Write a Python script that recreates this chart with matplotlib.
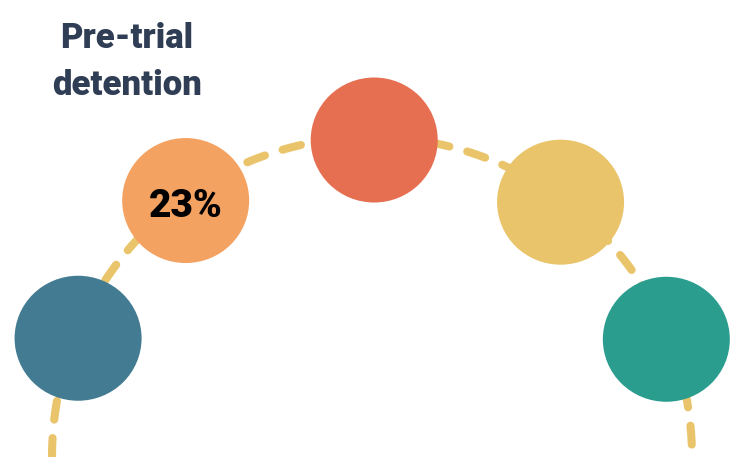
import numpy as np
import matplotlib
matplotlib.use("Agg")
import matplotlib.pyplot as plt
from matplotlib.patches import Ellipse

# --- Data ---
stage_angles = [158, 126, 89.6, 53.5, 21.8]    # position of each stage on the arc (degrees)
stage_colors = ["#437C92", "#F4A261", "#E76F51", "#E9C46A", "#2A9D8F"]
stage_values = ["", "23%", "", "", ""]
title_text = "Pre-trial\ndetention"

W, H = 744, 457
arc_cx, arc_cy, arc_r = 372, 457, 320
node_r = 317
blob_w, blob_h = 127, 125

fig = plt.figure(figsize=(W / 100, H / 100), dpi=100)
ax = fig.add_axes([0, 0, 1, 1])
ax.set_xlim(0, W)
ax.set_ylim(H, 0)
ax.axis("off")

# --- Dashed arc ---
t = np.linspace(np.pi, 0, 400)
line, = ax.plot(arc_cx + arc_r * np.cos(t), arc_cy - arc_r * np.sin(t),
                color="#E9C46A", lw=5.8, solid_capstyle="round",
                dash_capstyle="round", zorder=1)
line.set_dashes((2.35, 2.3))

# --- Stage blobs ---
for ang, col, val in zip(stage_angles, stage_colors, stage_values):
    a = np.deg2rad(ang)
    x = arc_cx + node_r * np.cos(a)
    y = arc_cy - node_r * np.sin(a)
    ax.add_patch(Ellipse((x, y), blob_w, blob_h, color=col, zorder=2, lw=0))
    if val:
        ax.text(x, y + 6, val, ha="center", va="center", fontsize=28,
                fontweight="heavy", family="Roboto", color="black", zorder=3)

ax.text(127, 62, title_text, ha="center", va="center", fontsize=25,
        fontweight="heavy", family="Roboto", color="#2F3D55",
        linespacing=1.55)

plt.savefig("out.png", dpi=100)
plt.close()
